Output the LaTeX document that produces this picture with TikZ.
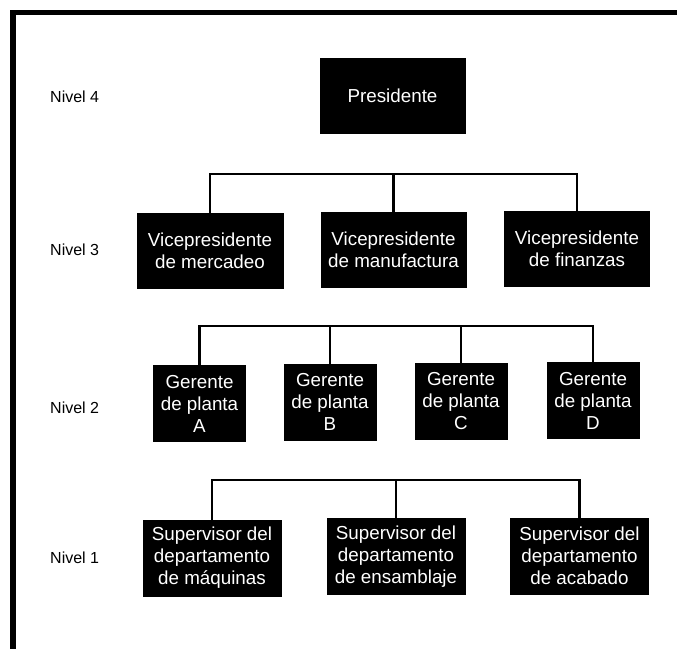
\documentclass[tikz,border=0pt]{standalone}
\usepackage{fontspec}
\setmainfont{Liberation Sans}
\begin{document}
\begin{tikzpicture}[x=1pt,y=-1pt,
  orgbox/.style={fill=black,draw=black,text=white,align=center,inner sep=0pt,
    font=\fontsize{18.8}{22}\selectfont},
  wbox/.style={orgbox,minimum width=145pt,minimum height=75pt},
  gbox/.style={orgbox,minimum width=92pt,minimum height=76pt},
  sbox/.style={orgbox,minimum width=138pt,minimum height=76pt},
  nivel/.style={anchor=west,inner sep=0pt,font=\fontsize{16}{19}\selectfont},
  conn/.style={line width=2.3pt},
  frame/.style={line width=5.5pt}]
\useasboundingbox (0,0) rectangle (677,649);
% frame (top and left only)
\coordinate (fa) at (677,12.5);
\coordinate (fb) at (13,12.5);
\coordinate (fc) at (13,649);
\draw[frame] (fa) -- (fb) -- (fc);
% level labels
\node[nivel] (n4) at (50,97) {Nivel 4};
\node[nivel] (n3) at (50,250) {Nivel 3};
\node[nivel] (n2) at (50,408) {Nivel 2};
\node[nivel] (n1) at (50,558) {Nivel 1};
% boxes
\node[wbox] (pres) at (392.5,95.5) {Presidente};
\node[wbox,minimum width=146pt] (vp1) at (210,250.5) {Vicepresidente\\de mercadeo};
\node[wbox] (vp2) at (393.5,249.5) {Vicepresidente\\de manufactura};
\node[wbox] (vp3) at (577,248.5) {Vicepresidente\\de finanzas};
\node[gbox] (ga) at (199.5,403.5) {Gerente\\de planta\\A};
\node[gbox] (gb) at (330,402) {Gerente\\de planta\\B};
\node[gbox] (gc) at (461,401) {Gerente\\de planta\\C};
\node[gbox] (gd) at (593,400.5) {Gerente\\de planta\\D};
\node[sbox] (s1) at (212,558) {Supervisor del\\departamento\\de m\'aquinas};
\node[sbox] (s2) at (396,556.5) {Supervisor del\\departamento\\de ensamblaje};
\node[sbox] (s3) at (579.5,556) {Supervisor del\\departamento\\de acabado};
% buses
\coordinate (bus3) at (0,174);
\coordinate (bus2) at (0,326);
\coordinate (bus1) at (0,480);
\draw[conn] (vp1.north) |- (bus3 -| vp3.north) -- (vp3.north);
\draw[conn] (vp2.north) -- (vp2.north |- bus3);
\draw[conn] (ga.north) |- (bus2 -| gd.north) -- (gd.north);
\draw[conn] (gb.north) -- (gb.north |- bus2);
\draw[conn] (gc.north) -- (gc.north |- bus2);
\draw[conn] (s1.north) |- (bus1 -| s3.north) -- (s3.north);
\draw[conn] (s2.north) -- (s2.north |- bus1);
\end{tikzpicture}
\end{document}
